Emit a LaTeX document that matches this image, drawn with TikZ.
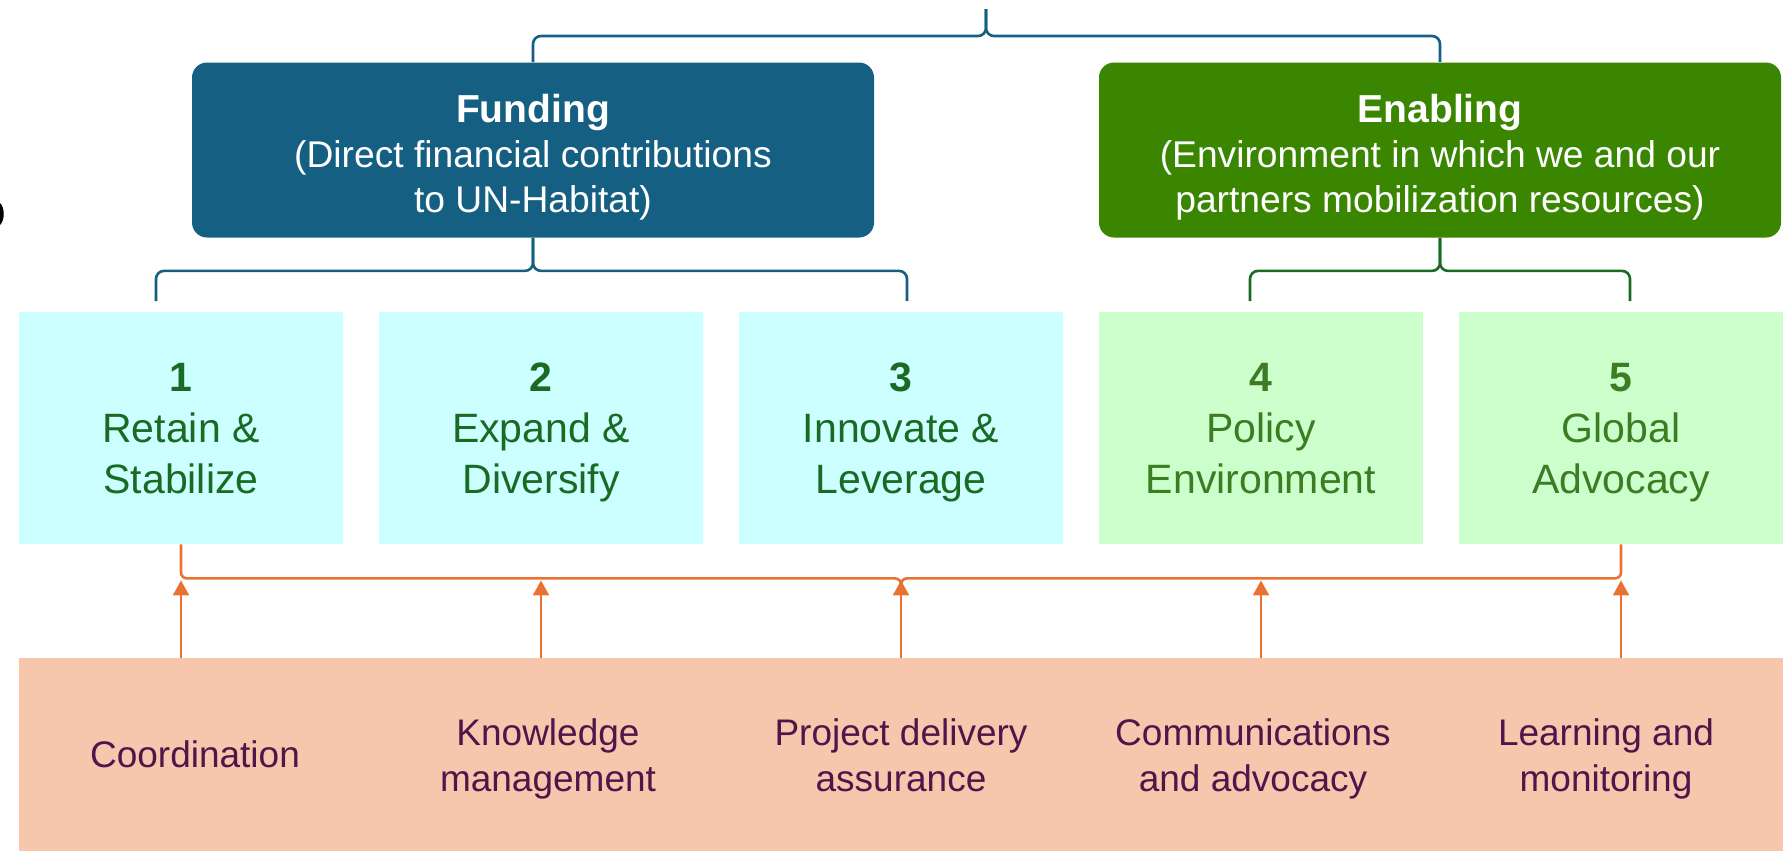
\documentclass[tikz,border=0pt]{standalone}
\usepackage{fontspec}
\setmainfont{Liberation Sans}
\usetikzlibrary{arrows.meta,calc}

\definecolor{fundblue}{HTML}{156082}
\definecolor{enablegreen}{HTML}{3A8600}
\definecolor{pillarcyan}{HTML}{CCFFFF}
\definecolor{pillarmint}{HTML}{CCFFCC}
\definecolor{darkgreen}{HTML}{196B24}
\definecolor{leafgreen}{HTML}{3B7D23}
\definecolor{peach}{HTML}{F6C6AD}
\definecolor{plum}{HTML}{501549}
\definecolor{accentorange}{HTML}{E97132}

% number and two lines of a pillar
\newcommand{\pillartext}[3]{\rule{0pt}{22.35pt}\textbf{#1}\\#2\\#3\strut}

\tikzset{
  header/.style={rounded corners=7.5pt, inner sep=0pt, minimum width=341pt,
    minimum height=87.5pt, text=white, align=center,
    font=\fontsize{18.6}{22.5}\selectfont},
  pillar/.style={inner sep=0pt, minimum width=162pt, minimum height=116pt,
    align=center, font=\fontsize{20.5}{25.5}\selectfont},
  fundpillar/.style={pillar, fill=pillarcyan, text=darkgreen},
  enablepillar/.style={pillar, fill=pillarmint, text=leafgreen},
  baselabel/.style={align=center, text=plum, font=\fontsize{18.5}{23}\selectfont,
    execute at begin node=\strut, execute at end node=\strut},
  bracket/.style={line width=1.3pt, rounded corners=4pt},
  uparrow/.style={accentorange, line width=1pt, -{Triangle[length=7.5pt,width=8pt]}}
}

\begin{document}
\begin{tikzpicture}[x=0.5pt,y=-0.5pt]
    \useasboundingbox (0,0) rectangle (1788,851);
    % cut-off mark at the left edge
    \fill (0,203) .. controls (5,208) and (5,220) .. (0,225) -- cycle;

    % two headers
    \node[header, fill=fundblue] (fund) at (533,150)
        {\rule{0pt}{21pt}{\fontsize{19.5}{22.5}\selectfont\bfseries Funding}\\(Direct financial contributions\\to UN-Habitat)};
    \node[header, fill=enablegreen] (enab) at (1440,150)
        {\rule{0pt}{21pt}{\fontsize{19.5}{22.5}\selectfont\bfseries Enabling}\\(Environment in which we and our\\partners mobilization resources)};

    % five pillars
    \node[fundpillar] (p1) at (181,428) {\pillartext{1}{Retain \&}{Stabilize}};
    \node[fundpillar] (p2) at (541,428) {\pillartext{2}{Expand \&}{Diversify}};
    \node[fundpillar] (p3) at (901,428) {\pillartext{3}{Innovate \&}{Leverage}};
    \node[enablepillar] (p4) at (1261,428) {\pillartext{4}{Policy}{Environment}};
    \node[enablepillar] (p5) at (1621,428) {\pillartext{5}{Global}{Advocacy}};

    % base of cross-cutting functions
    \node[fill=peach, inner sep=0pt, minimum width=882pt, minimum height=96.5pt] (base) at (901,754.5) {};
    \node[baselabel] (l1) at (195,758) {Coordination};
    \node[baselabel] (l2) at (548,762) {Knowledge\\management};
    \node[baselabel] (l3) at (901,762) {Project delivery\\assurance};
    \node[baselabel] (l4) at (1253,762) {Communications\\and advocacy};
    \node[baselabel] (l5) at (1606,762) {Learning and\\monitoring};

    % top brace
    \coordinate (topbar) at (986,36);
    \coordinate (toptip) at (986,9);
    \draw[bracket, fundblue] (fund.north) |- (topbar) -- (toptip);
    \draw[bracket, fundblue] (enab.north) |- (topbar) -- (toptip);

    % funding brace
    \coordinate (fl) at (156,301);
    \coordinate (fr) at (907,301);
    \coordinate (fbar) at ($(fund.south)+(0,33)$);
    \draw[bracket, fundblue] (fl) |- (fbar) -- (fund.south);
    \draw[bracket, fundblue] (fr) |- (fbar) -- (fund.south);

    % enabling brace
    \coordinate (el) at (1250,301);
    \coordinate (er) at (1630,301);
    \coordinate (ebar) at ($(enab.south)+(0,33)$);
    \draw[bracket, darkgreen] (el) |- (ebar) -- (enab.south);
    \draw[bracket, darkgreen] (er) |- (ebar) -- (enab.south);

    % orange brace and arrows
    \coordinate (obar) at ($(p3.south)+(0,34)$);
    \coordinate (otip) at ($(p3.south)+(0,41)$);
    \draw[bracket, accentorange, rounded corners=3pt] (p1.south) |- (obar) -- (otip);
    \draw[bracket, accentorange, rounded corners=3pt] (p5.south) |- (obar) -- (otip);
    \foreach \i in {1,...,5}
        \draw[uparrow] (p\i.south |- base.north) -- ($(p\i.south)+(0,36)$);
\end{tikzpicture}
\end{document}
